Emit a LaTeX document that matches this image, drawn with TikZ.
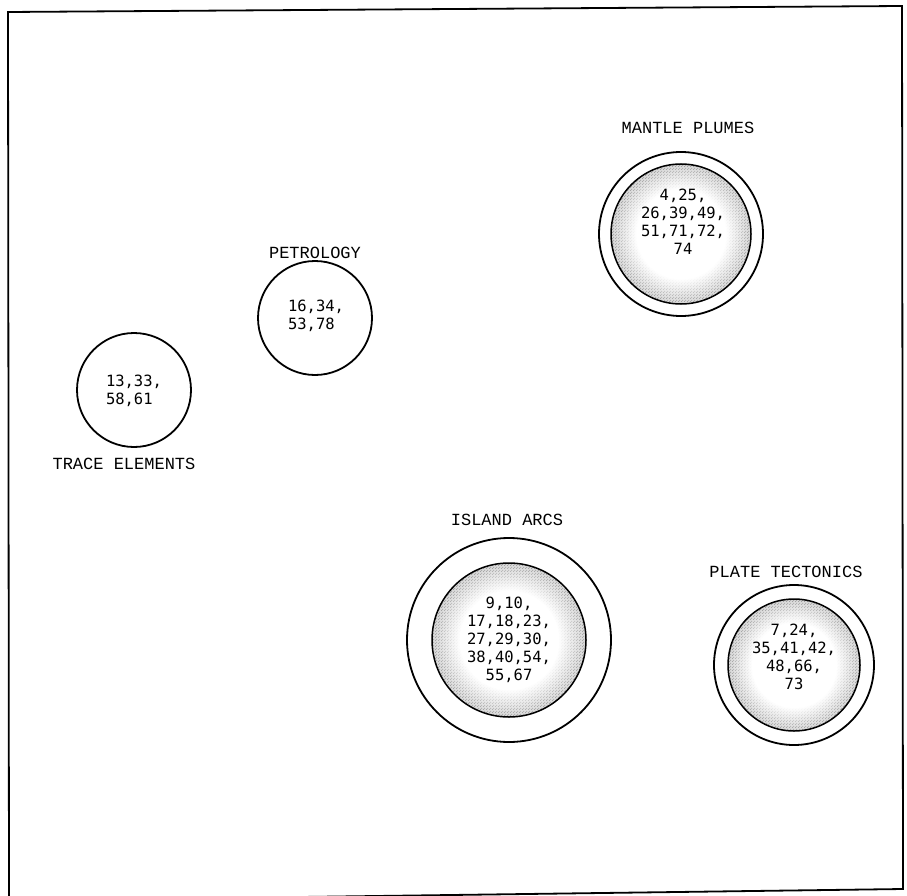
\documentclass[tikz,border=0pt]{standalone}
\usepackage{fontspec}
\newfontfamily\labelfont{Liberation Mono}
\newfontfamily\numfont{DejaVu Sans Mono}
\usetikzlibrary{patterns,fadings}
\pgfdeclarepatternformonly{stipple}{\pgfpointorigin}{\pgfpoint{3pt}{3pt}}{\pgfpoint{3pt}{3pt}}{%
  \pgfpathcircle{\pgfpoint{0.75pt}{0.75pt}}{0.72pt}%
  \pgfpathcircle{\pgfpoint{2.25pt}{2.25pt}}{0.72pt}%
  \pgfusepath{fill}}
\pgfdeclareradialshading{cfshade}{\pgfpointorigin}{color(0bp)=(white); color(16bp)=(white); color(34bp)=(black); color(50bp)=(black)}
\pgfdeclarefading{centerfade}{\pgfuseshading{cfshade}}
\tikzset{
  ring/.style={circle, draw, line width=1.8pt, inner sep=0pt},
  innerdisc/.style={circle, draw, line width=1.5pt, inner sep=0pt,
    preaction={fill=black!32},
    pattern=stipple, pattern color=black!85,
    path picture={\fill[white, path fading=centerfade]
      (path picture bounding box.south west) rectangle (path picture bounding box.north east);}},
  lab/.style={font=\labelfont\fontsize{17}{20}\selectfont, inner sep=0pt},
  nums/.style={font=\numfont\fontsize{15.5}{18}\selectfont, inner sep=0pt, align=center},
  numsl/.style={font=\numfont\fontsize{15.5}{18}\selectfont, inner sep=0pt, align=left}
}
\begin{document}
\begin{tikzpicture}[x=1pt,y=-1pt]
\useasboundingbox (0,0) rectangle (907,896);
\fill[white] (0,0) rectangle (907,896);
% frame
\draw[line width=1.8pt] (9,900) -- (8,12) -- (902,6) -- (903,889) -- (300,897);

% trace elements
\node[ring, minimum size=114pt] (te) at (134,390) {};
\node[numsl] (tet) at (134,391) {13,33,\\58,61};
\node[lab] (tel) at (124,464) {TRACE ELEMENTS};

% petrology
\node[ring, minimum size=114pt] (pe) at (315,318) {};
\node[numsl] (pet) at (316,316) {16,34,\\53,78};
\node[lab] (pel) at (315,253) {PETROLOGY};

% mantle plumes
\node[ring, minimum size=164pt] (mp) at (681,234) {};
\node[innerdisc, minimum size=140pt] (mpi) at (mp.center) {};
\node[nums] (mpt) at (683,222) {4,25,\\26,39,49,\\51,71,72,\\74};
\node[lab] (mpl) at (688,128) {MANTLE PLUMES};

% island arcs
\node[ring, minimum size=204pt] (ia) at (509,640) {};
\node[innerdisc, minimum size=154pt] (iai) at (ia.center) {};
\node[nums] (iat) at (509,640) {9,10,\\17,18,23,\\27,29,30,\\38,40,54,\\55,67};
\node[lab] (ial) at (507,520) {ISLAND ARCS};

% plate tectonics
\node[ring, minimum size=160pt] (pt) at (794,665) {};
\node[innerdisc, minimum size=132pt] (pti) at (pt.center) {};
\node[nums] (ptt) at (794,657) {7,24,\\35,41,42,\\48,66,\\73};
\node[lab] (ptl) at (786,572) {PLATE TECTONICS};
\end{tikzpicture}
\end{document}
